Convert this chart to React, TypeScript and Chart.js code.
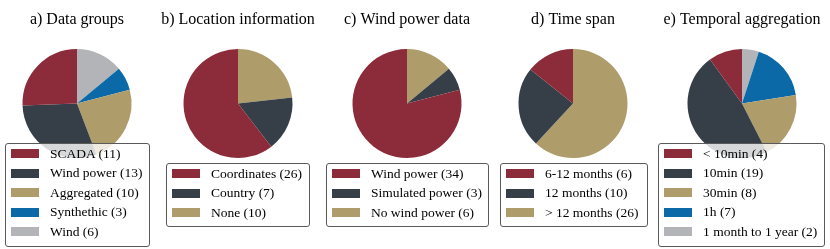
import React, { useEffect, useRef } from "react";
import { Chart, registerables } from "chart.js";

Chart.register(...registerables);

const RED = "#8c2b3a";
const DARK = "#363f48";
const TAN = "#ae9d6b";
const BLUE = "#0b69a7";
const GREY = "#b2b4b7";

const titleA = "a) Data groups";
const labelsA = ["SCADA (11)", "Wind power (13)", "Aggregated (10)", "Synthethic (3)", "Wind (6)"];
const valuesA = [11, 13, 10, 3, 6];
const colorsA = [RED, DARK, TAN, BLUE, GREY];

const titleB = "b) Location information";
const labelsB = ["Coordinates (26)", "Country (7)", "None (10)"];
const valuesB = [26, 7, 10];
const colorsB = [RED, DARK, TAN];

const titleC = "c) Wind power data";
const labelsC = ["Wind power (34)", "Simulated power (3)", "No wind power (6)"];
const valuesC = [34, 3, 6];
const colorsC = [RED, DARK, TAN];

const titleD = "d) Time span";
const labelsD = ["6-12 months (6)", "12 months (10)", "> 12 months (26)"];
const valuesD = [6, 10, 26];
const colorsD = [RED, DARK, TAN];

const titleE = "e) Temporal aggregation";
const labelsE = ["< 10min (4)", "10min (19)", "30min (8)", "1h (7)", "1 month to 1 year (2)"];
const valuesE = [4, 19, 8, 7, 2];
const colorsE = [RED, DARK, TAN, BLUE, GREY];

const FONT = "'Liberation Serif', 'DejaVu Serif', serif";
const CW = 170;
const CH = 249;

type PanelProps = {
  cx: number;
  title: string;
  labels: string[];
  values: number[];
  colors: string[];
  legend: { left: number; top: number; width: number; height: number };
};

function Panel({ cx, title, labels, values, colors, legend }: PanelProps) {
  const ref = useRef<HTMLCanvasElement | null>(null);
  useEffect(() => {
    if (!ref.current) return;
    const chart = new Chart(ref.current, {
      type: "pie",
      data: {
        // matplotlib draws counter-clockwise from the top; Chart.js goes clockwise,
        // so feed the slices in reverse order.
        labels: [...labels].reverse(),
        datasets: [
          {
            data: [...values].reverse(),
            backgroundColor: [...colors].reverse(),
            borderWidth: 0,
            radius: 54.5,
          } as any,
        ],
      },
      options: {
        animation: false,
        responsive: false,
        devicePixelRatio: 1,
        events: [],
        layout: { padding: { left: 0, right: 0, top: 0, bottom: 91 } },
        plugins: {
          legend: { display: false },
          tooltip: { enabled: false },
          title: {
            display: true,
            text: title,
            color: "#000",
            font: { family: FONT, size: 16, weight: "normal" as any, lineHeight: 1.2 },
            padding: { top: 10, bottom: 19.8 },
          },
        },
      },
    });
    return () => chart.destroy();
  }, []);

  return (
    <>
      <canvas
        ref={ref}
        width={CW}
        height={CH}
        style={{ position: "absolute", left: cx - CW / 2, top: 0, width: CW, height: CH }}
      />
      <div
        style={{
          position: "absolute",
          left: legend.left,
          top: legend.top,
          width: legend.width,
          height: legend.height,
          boxSizing: "border-box",
          border: "1px solid #5a5a5a",
          borderRadius: 3,
          background: "rgba(255,255,255,0.8)",
        }}
      >
        {labels.map((l, i) => (
          <div key={i}>
            <div
              style={{
                position: "absolute",
                left: 5,
                top: 10.5 + i * 19.5 - 4.5 - 1,
                width: 28,
                height: 9,
                background: colors[i],
              }}
            />
            <div
              style={{
                position: "absolute",
                left: 44,
                top: 10.5 + i * 19.5 - 10 - 1,
                height: 20,
                lineHeight: "20px",
                fontFamily: FONT,
                fontSize: 13.5,
                color: "#000",
                whiteSpace: "nowrap",
              }}
            >
              {l}
            </div>
          </div>
        ))}
      </div>
    </>
  );
}

export default function App() {
  return (
    <div
      style={{
        position: "fixed",
        left: 0,
        top: 0,
        width: 830,
        height: 249,
        overflow: "hidden",
        background: "#fff",
      }}
    >
      <Panel cx={77} title={titleA} labels={labelsA} values={valuesA} colors={colorsA}
        legend={{ left: 5, top: 143, width: 145, height: 104 }} />
      <Panel cx={237.5} title={titleB} labels={labelsB} values={valuesB} colors={colorsB}
        legend={{ left: 166, top: 163, width: 144, height: 64 }} />
      <Panel cx={407} title={titleC} labels={labelsC} values={valuesC} colors={colorsC}
        legend={{ left: 326, top: 163, width: 163, height: 64 }} />
      <Panel cx={573} title={titleD} labels={labelsD} values={valuesD} colors={colorsD}
        legend={{ left: 500, top: 163, width: 148, height: 64 }} />
      <Panel cx={741.5} title={titleE} labels={labelsE} values={valuesE} colors={colorsE}
        legend={{ left: 658, top: 143, width: 167, height: 104 }} />
    </div>
  );
}
